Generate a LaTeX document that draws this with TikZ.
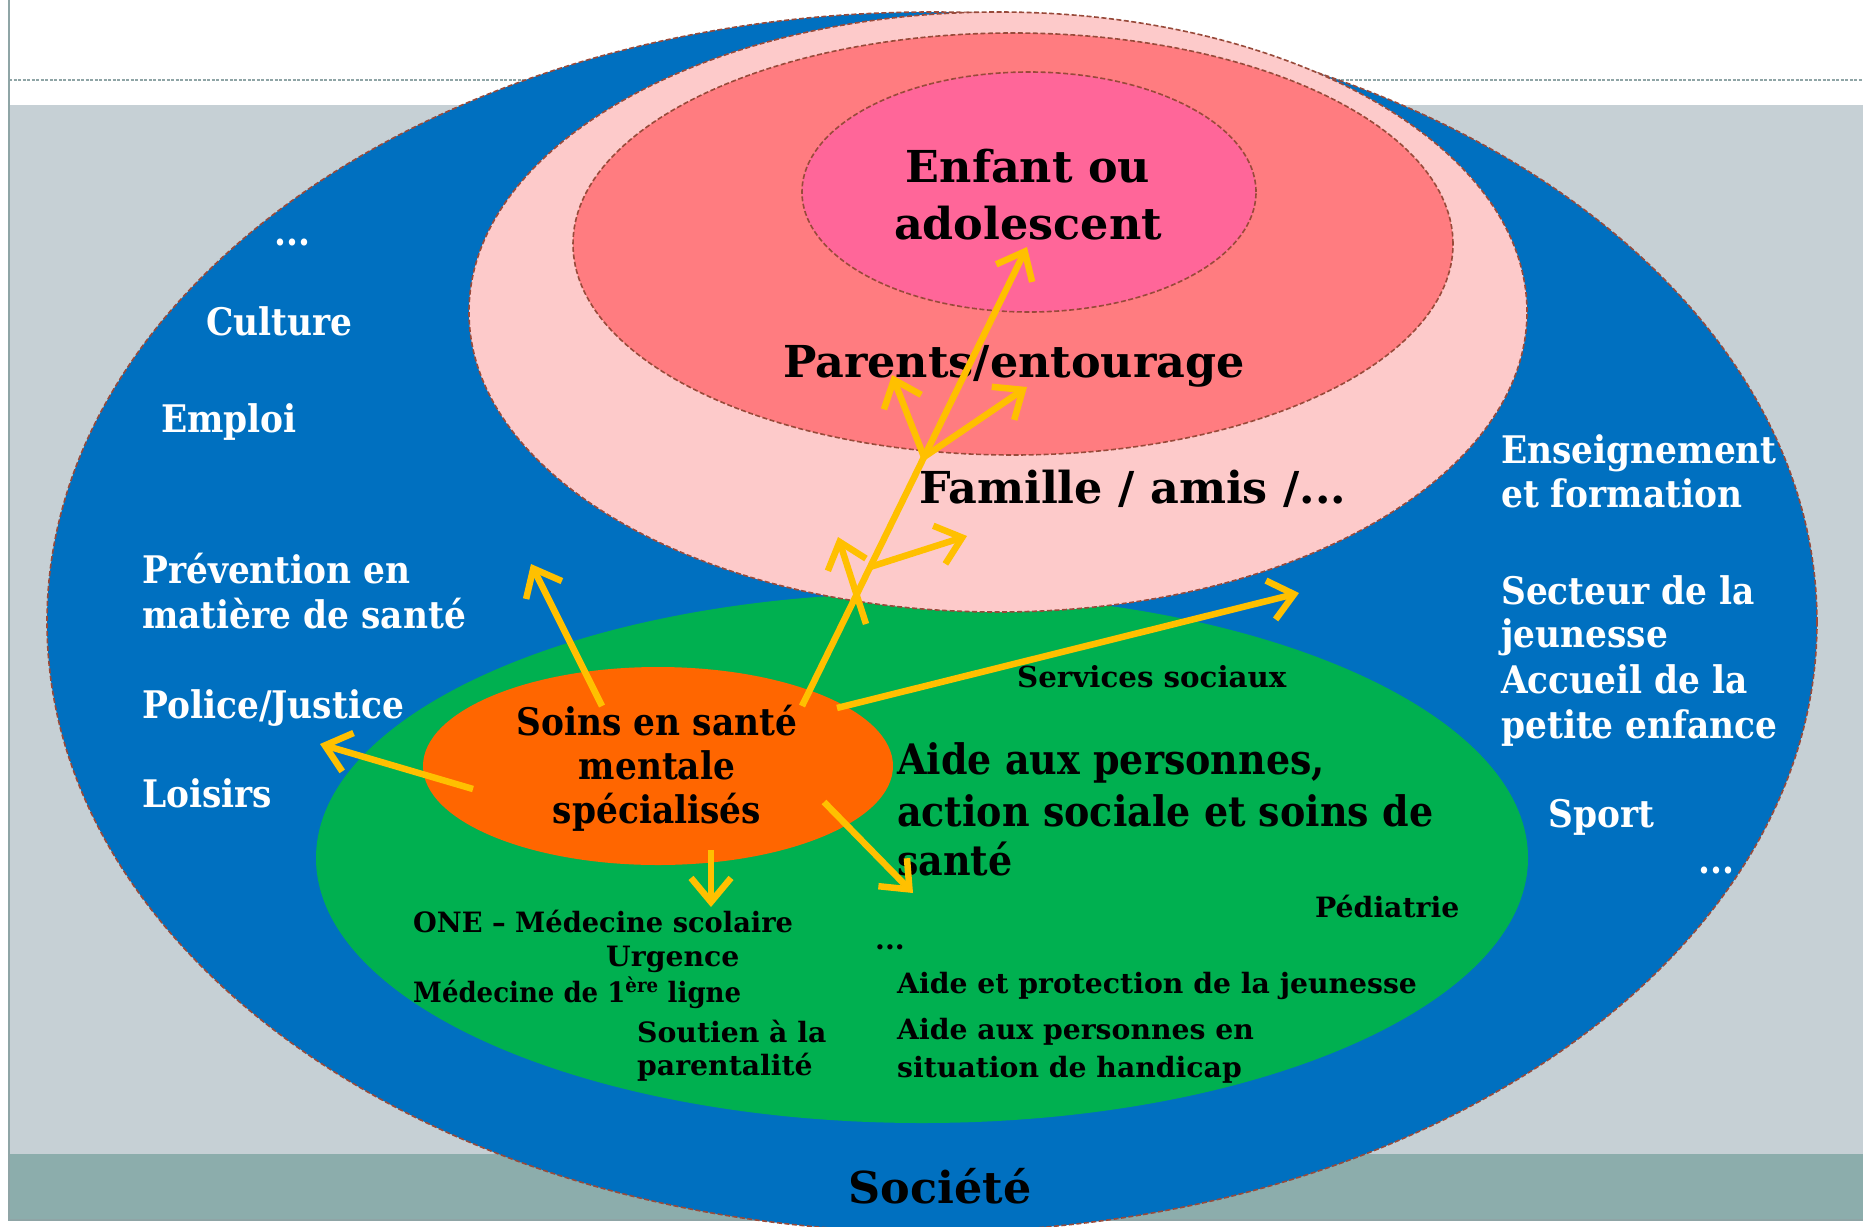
\documentclass[tikz,border=0pt]{standalone}
\usepackage{fontspec}
\setmainfont{DejaVu Serif}[FakeStretch=1.01]
\newfontfamily\narrowfam{DejaVu Serif}[FakeStretch=0.905]
\usetikzlibrary{arrows.meta,shapes.geometric}
\definecolor{socblue}{HTML}{0070C0}
\definecolor{famPink}{HTML}{FDCACA}
\definecolor{parSalmon}{HTML}{FF7C80}
\definecolor{kidPink}{HTML}{FF6699}
\definecolor{careGreen}{HTML}{00B050}
\definecolor{soinOrange}{HTML}{FF6600}
\definecolor{arrYellow}{HTML}{FFC000}
\definecolor{bandGray}{HTML}{C6D0D5}
\definecolor{bandDark}{HTML}{8CADAC}
\definecolor{frameGray}{HTML}{8FA5A6}
\definecolor{edgeBrown}{HTML}{984A3A}
\tikzset{
  ring/.style={ellipse, inner sep=0pt, outer sep=0pt},
  edged/.style={draw=edgeBrown, line width=1.6pt, dash pattern=on 5pt off 2.5pt},
  wlbl/.style={inner sep=0pt, anchor=base west, text=white, font=\narrowfam\bfseries\fontsize{38}{44}\selectfont},
  blbl/.style={inner sep=0pt, anchor=base west, text=black},
  bigf/.style={font=\bfseries\fontsize{44}{50}\selectfont},
  medf/.style={font=\narrowfam\bfseries\fontsize{38}{44}\selectfont},
  aidf/.style={font=\narrowfam\bfseries\fontsize{42}{50}\selectfont},
  smlf/.style={font=\bfseries\fontsize{28}{34}\selectfont},
  svcf/.style={font=\bfseries\fontsize{29}{34}\selectfont},
  flow/.style={draw=arrYellow, line width=6.5pt, -{Straight Barb[length=24pt,width=40pt]}}
}
\begin{document}
\begin{tikzpicture}[x=1pt,y=-1pt]
\useasboundingbox (0,0) rectangle (1863,1226);
\fill[white] (0,0) rectangle (1863,1226);
\fill[bandGray] (9,105) rectangle (1863,1154);
\fill[bandDark] (9,1154) rectangle (1863,1220);
\draw[frameGray, line width=2pt] (9,0) -- (9,1220) -- (1863,1220);
\draw[frameGray, line width=1.2pt, dash pattern=on 3pt off 1.5pt] (9,80) -- (1863,80);

% circles
\node[ring, edged, fill=socblue, minimum width=1770pt, minimum height=1220pt] (soc) at (932,622) {};
\node[ring, fill=careGreen, minimum width=1212pt, minimum height=530pt] (green) at (922,858) {};
\node[ring, fill=soinOrange, minimum width=470pt, minimum height=198pt] (orange) at (658,766) {};
\node[ring, edged, fill=famPink, minimum width=1058pt, minimum height=600pt] (fam) at (998,312) {};
\node[ring, edged, fill=parSalmon, minimum width=880pt, minimum height=422pt] (par) at (1013,244) {};
\node[ring, edged, fill=kidPink, minimum width=454pt, minimum height=240pt] (kid) at (1029,192) {};

% white labels (society)
\node[wlbl] (t1) at (274,245) {...};
\node[wlbl] (t2) at (206,335) {Culture};
\node[wlbl] (t3) at (161,432) {Emploi};
\node[wlbl] (t4) at (142,583) {Prévention en};
\node[wlbl] (t5) at (142,628) {matière de santé};
\node[wlbl] (t6) at (142,718) {Police/Justice};
\node[wlbl] (t7) at (142,807) {Loisirs};
\node[wlbl] (t8) at (1501,463) {Enseignement};
\node[wlbl] (t9) at (1501,507) {et formation};
\node[wlbl] (t10) at (1501,604) {Secteur de la};
\node[wlbl] (t11) at (1501,647) {jeunesse};
\node[wlbl] (t12) at (1501,693) {Accueil de la};
\node[wlbl] (t13) at (1501,738) {petite enfance};
\node[wlbl] (t14) at (1548,827) {Sport};
\node[wlbl] (t15) at (1698,873) {...};

% inner circles
\node[blbl, bigf, anchor=base] (k1) at (1028,182) {Enfant ou};
\node[blbl, bigf, anchor=base] (k2) at (1028,239) {adolescent};
\node[blbl, bigf] (p1) at (783,377) {Parents/entourage};
\node[blbl, bigf] (f1) at (919,503) {Famille / amis /...};

% orange
\node[blbl, medf, anchor=base] (s1) at (657,735) {Soins en santé};
\node[blbl, medf, anchor=base] (s2) at (657,779) {mentale};
\node[blbl, medf, anchor=base] (s3) at (657,823) {spécialisés};

% green
\node[blbl, svcf] (g1) at (1017,687) {Services sociaux};
\node[blbl, aidf] (g2) at (897,774) {Aide aux personnes,};
\node[blbl, aidf] (g3) at (897,826) {action sociale et soins de};
\node[blbl, aidf] (g4) at (897,875) {santé};
\node[blbl, smlf] (g5) at (1315,917) {Pédiatrie};
\node[blbl, smlf] (g6) at (875,949) {...};
\node[blbl, smlf] (g7) at (897,993) {Aide et protection de la jeunesse};
\node[blbl, smlf] (g8) at (897,1039) {Aide aux personnes en};
\node[blbl, smlf] (g9) at (897,1077) {situation de handicap};
\node[blbl, smlf] (g10) at (413,932) {\scalebox{0.964}[1]{ONE – Médecine scolaire}};
\node[blbl, smlf] (g11) at (606,966) {Urgence};
\node[blbl, smlf] (g12) at (413,1002) {\scalebox{0.92}[1]{Médecine de 1\textsuperscript{ère} ligne}};
\node[blbl, smlf] (g13) at (637,1042) {Soutien à la};
\node[blbl, smlf] (g14) at (637,1075) {parentalité};

\node[blbl, bigf, anchor=base] (soctxt) at (940,1203) {Société};

% arrows
\coordinate (a1s) at (602,706); \coordinate (a1e) at (531,564);
\coordinate (a2s) at (473,789); \coordinate (a2e) at (320,744);
\coordinate (a3s) at (711,850); \coordinate (a3e) at (711,907);
\coordinate (a4s) at (824,802); \coordinate (a4e) at (913,893);
\coordinate (a5s) at (837,708); \coordinate (a5e) at (1299,593);
\coordinate (ms) at (802,706); \coordinate (me) at (1027,247);
\coordinate (j1) at (924,457); \coordinate (j2) at (870,567);
\coordinate (b1e) at (892,375); \coordinate (b2e) at (1027,387);
\coordinate (b3e) at (967,536);
\coordinate (b4s) at (866,624); \coordinate (b4e) at (838,537);
\draw[flow] (a1s) -- (a1e);
\draw[flow] (a2s) -- (a2e);
\draw[flow] (a3s) -- (a3e);
\draw[flow] (a4s) -- (a4e);
\draw[flow] (a5s) -- (a5e);
\draw[flow] (ms) -- (me);
\draw[flow] (j1) -- (b1e);
\draw[flow] (j1) -- (b2e);
\draw[flow] (j2) -- (b3e);
\draw[flow] (b4s) -- (b4e);
\end{tikzpicture}
\end{document}
